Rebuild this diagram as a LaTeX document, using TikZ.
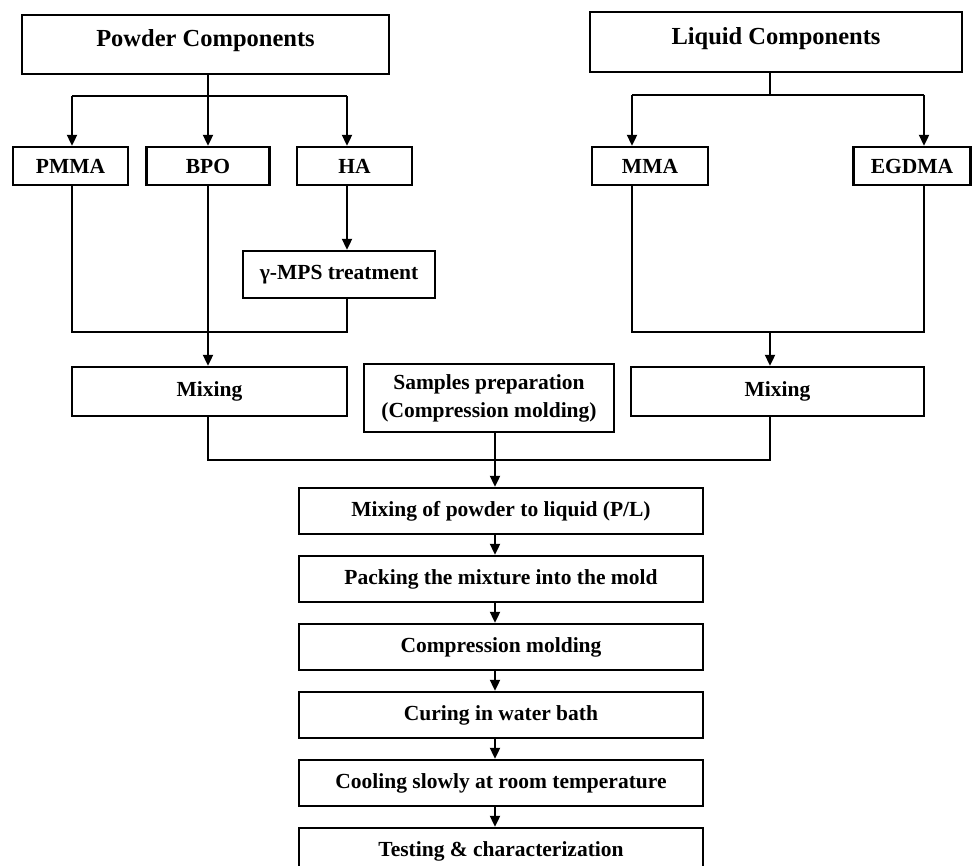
\documentclass[tikz,border=0pt]{standalone}
\usepackage{fontspec}
\setmainfont{Liberation Serif}
\usetikzlibrary{arrows.meta,positioning}

\begin{document}
\begin{tikzpicture}[x=1pt, y=-1pt, line width=2.1pt, node distance=19.6pt,
    >={Triangle[length=11pt,width=10pt]},
    main/.style = {draw, line width=2.4pt, inner sep=0pt, align=center,
                   font=\bfseries\fontsize{21.5}{28}\selectfont},
    head/.style = {main, text height=16.6pt, text depth=12.4pt,
                   font=\bfseries\fontsize{24.5}{28}\selectfont},
    stage/.style = {main, minimum width=404pt, minimum height=46pt}]
    \useasboundingbox (0,0) rectangle (973,866);

    \node[head, minimum width=367pt, minimum height=59pt] (1) at (205.5,44.5) {Powder Components};
    \node[head, minimum width=372pt, minimum height=60pt] (2) at (776,42)     {Liquid Components};
    \node[main, minimum width=115pt, minimum height=38pt] (3) at (70.5,166)   {PMMA};
    \node[main, minimum width=123pt, minimum height=38pt] (4) at (208,166)    {BPO};
    \node[main, minimum width=115pt, minimum height=38pt] (5) at (354.5,166)  {HA};
    \node[main, minimum width=116pt, minimum height=38pt] (6) at (650,166)    {MMA};
    \node[main, minimum width=117pt, minimum height=38pt] (7) at (912,166)    {EGDMA};
    \node[main, minimum width=192pt, minimum height=47pt] (8) at (339,274.5)  {γ-MPS treatment};
    \node[main, minimum width=275pt, minimum height=49pt] (9) at (209.5,391.5) {Mixing};
    \node[main, minimum width=250pt, minimum height=68pt] (10) at (489,398)   {Samples preparation\\(Compression molding)};
    \node[main, minimum width=293pt, minimum height=49pt] (11) at (777.5,391.5) {Mixing};
    \node[stage] (12) at (501,511)      {Mixing of powder to liquid (P/L)};
    \node[stage] (13) [below=of 12]     {Packing the mixture into the mold};
    \node[stage] (14) [below=of 13]     {Compression molding};
    \node[stage] (15) [below=of 14]     {Curing in water bath};
    \node[stage] (16) [below=of 15]     {Cooling slowly at room temperature};
    \node[stage] (17) [below=of 16]     {Testing \& characterization};

    % junction points
    \coordinate (a) at (72,96);
    \coordinate (b) at (347,96);
    \coordinate (c) at (72,332);
    \coordinate (d) at (347,332);
    \coordinate (e) at (632,95);
    \coordinate (f) at (924,95);
    \coordinate (g) at (632,332);
    \coordinate (h) at (924,332);
    \coordinate (k) at (770,95);
    \coordinate (i) at (208,460);
    \coordinate (j) at (770,460);
    \coordinate (m) at (495,460);

    % powder side
    \draw (a) -- (b);
    \draw[->] (1.south -| 4.north) -- (4.north);
    \draw[->] (a) -- (a |- 3.north);
    \draw[->] (b) -- (b |- 5.north);
    \draw[->] (5.south -| b) -- (b |- 8.north);
    \draw (3.south -| c) -- (c) -- (d) -- (8.south -| d);
    \draw[->] (4.south) -- (4.south |- 9.north);

    % liquid side
    \draw (2.south -| k) -- (k);
    \draw (e) -- (f);
    \draw[->] (e) -- (e |- 6.north);
    \draw[->] (f) -- (f |- 7.north);
    \draw (6.south -| g) -- (g) -- (h) -- (7.south -| h);
    \draw[->] (g -| k) -- (k |- 11.north);

    % preparation
    \draw (9.south -| i) -- (i) -- (j) -- (11.south -| j);
    \draw[->] (10.south -| m) -- (m |- 12.north);
    \foreach \u/\v in {12/13,13/14,14/15,15/16,16/17}
        \draw[->] (\u.south -| m) -- (m |- \v.north);
\end{tikzpicture}
\end{document}
